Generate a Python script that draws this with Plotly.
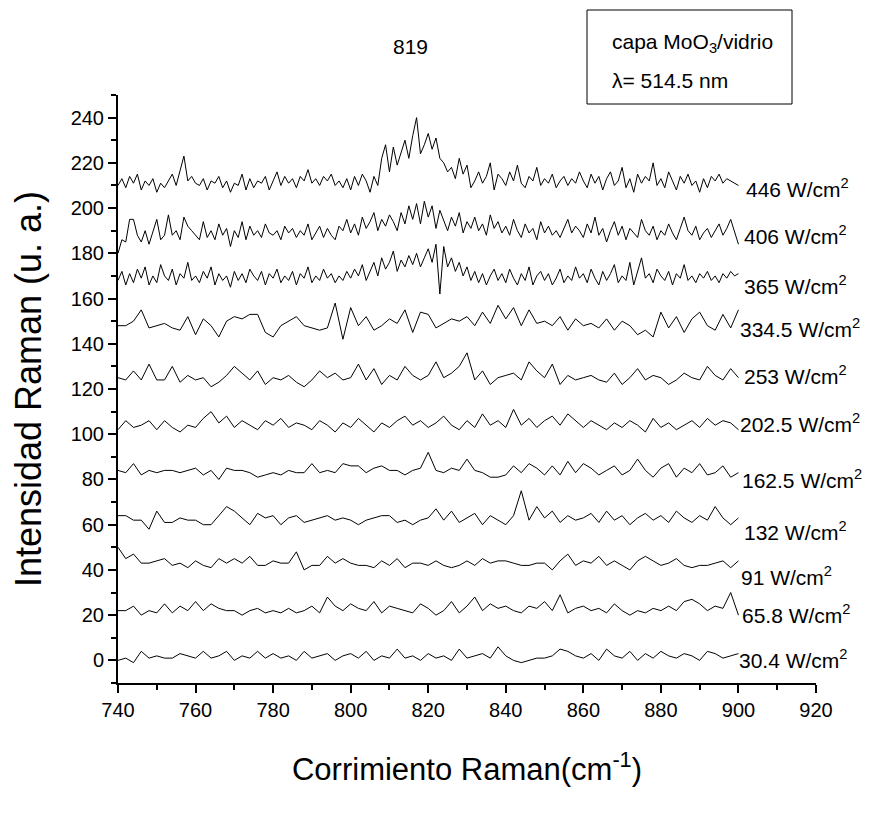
import plotly.graph_objects as go

# ---------------- data ----------------
x_fine = list(range(740, 901, 1))     # dense spectra (1 cm-1 step)
x_coarse = list(range(740, 901, 2))   # coarse spectra (2 cm-1 step)

s446 = [210, 213, 209, 214, 211, 215, 208, 212, 210, 213, 207, 211, 209, 212, 215, 210, 216, 223, 212, 214,
        211, 210, 213, 208, 212, 211, 214, 209, 212, 207, 211, 210, 215, 208, 213, 209, 212, 211, 214, 208,
        212, 216, 210, 214, 211, 213, 209, 214, 212, 217, 211, 213, 210, 214, 212, 215, 210, 212, 209, 213,
        208, 214, 210, 215, 212, 207, 214, 210, 222, 228, 216, 227, 219, 224, 230, 222, 232, 240, 224, 228,
        233, 226, 231, 222, 220, 216, 218, 213, 222, 215, 219, 209, 212, 216, 211, 214, 220, 208, 215, 213,
        210, 216, 212, 219, 211, 209, 214, 212, 218, 210, 213, 211, 215, 209, 212, 214, 210, 213, 211, 216,
        212, 209, 215, 211, 214, 208, 213, 216, 210, 212, 218, 209, 213, 207, 215, 211, 214, 212, 220, 210,
        213, 209, 216, 212, 208, 214, 211, 215, 210, 212, 207, 213, 209, 214, 212, 215, 211, 213, 212, 211, 210]

s406 = [180, 186, 185, 195, 195, 188, 185, 190, 184, 189, 195, 186, 188, 197, 188, 190, 186, 196, 192, 190,
        188, 186, 194, 187, 190, 186, 193, 188, 191, 183, 190, 187, 194, 186, 192, 188, 190, 187, 193, 189,
        188, 190, 186, 192, 189, 191, 187, 190, 188, 193, 186, 189, 192, 187, 191, 188, 186, 192, 190, 195,
        189, 193, 188, 196, 191, 194, 198, 190, 195, 192, 197, 194, 190, 198, 193, 201, 195, 202, 193, 203,
        196, 201, 191, 199, 194, 190, 196, 192, 198, 189, 194, 191, 196, 190, 193, 188, 197, 191, 194, 189,
        192, 188, 195, 190, 187, 193, 189, 191, 186, 194, 189, 192, 188, 190, 187, 191, 195, 189, 192, 190,
        187, 193, 189, 196, 188, 191, 185, 190, 194, 188, 192, 186, 191, 189, 187, 195, 190, 188, 192, 186,
        190, 188, 193, 189, 186, 191, 196, 190, 188, 192, 186, 189, 191, 187, 190, 193, 188, 191, 195, 190, 184]

s365 = [168, 172, 166, 171, 167, 173, 169, 174, 166, 170, 167, 175, 170, 168, 173, 166, 171, 169, 176, 168,
        170, 167, 172, 169, 174, 166, 171, 168, 170, 165, 172, 168, 171, 167, 173, 170, 168, 172, 166, 171,
        169, 173, 167, 170, 168, 172, 166, 171, 169, 174, 167, 170, 168, 173, 169, 171, 167, 170, 168, 172,
        169, 173, 170, 175, 168, 172, 176, 170, 178, 173, 176, 181, 172, 177, 174, 179, 175, 180, 174, 178,
        182, 176, 184, 162, 183, 174, 178, 172, 176, 170, 174, 168, 172, 167, 171, 166, 170, 173, 168, 171,
        167, 173, 169, 166, 171, 168, 174, 166, 170, 172, 168, 171, 166, 169, 173, 167, 170, 168, 174, 169,
        171, 167, 173, 169, 166, 172, 168, 171, 175, 167, 170, 168, 176, 166, 172, 178, 169, 171, 167, 173,
        170, 168, 172, 166, 171, 169, 175, 168, 170, 167, 171, 169, 172, 168, 170, 167, 171, 169, 172, 170, 171]

s334 = [148, 148, 150, 155, 147, 148, 149, 147, 146, 152, 144, 151, 148, 143, 150, 152, 151, 153, 153, 145,
        143, 148, 150, 152, 148, 147, 146, 147, 158, 142, 156, 148, 152, 146, 148, 151, 149, 155, 145, 154,
        153, 147, 149, 151, 150, 152, 148, 154, 149, 157, 151, 156, 148, 155, 149, 150, 148, 152, 146, 151,
        148, 149, 147, 151, 146, 150, 148, 144, 146, 143, 154, 147, 152, 145, 151, 154, 148, 146, 153, 147, 155]

s253 = [125, 124, 128, 124, 131, 124, 124, 130, 123, 126, 124, 125, 121, 123, 126, 130, 127, 124, 128, 122,
        125, 124, 126, 123, 121, 124, 128, 125, 127, 124, 125, 131, 124, 129, 122, 126, 124, 130, 126, 124,
        126, 132, 125, 127, 130, 136, 124, 128, 122, 125, 126, 127, 124, 132, 128, 125, 131, 122, 126, 124,
        125, 126, 124, 123, 127, 122, 125, 129, 124, 126, 125, 122, 124, 127, 125, 124, 130, 126, 124, 129, 125]

s202 = [102, 106, 103, 104, 106, 102, 106, 103, 101, 104, 103, 107, 110, 105, 108, 103, 106, 104, 102, 106,
        104, 107, 103, 105, 104, 102, 106, 104, 101, 105, 103, 107, 104, 101, 105, 103, 106, 108, 104, 106,
        103, 105, 108, 104, 102, 106, 103, 109, 104, 106, 103, 111, 104, 107, 103, 106, 108, 104, 109, 106,
        103, 106, 104, 102, 105, 103, 106, 104, 101, 107, 103, 105, 102, 104, 106, 103, 107, 104, 106, 105, 102]

s162 = [84, 83, 87, 82, 84, 83, 84, 84, 83, 84, 85, 82, 84, 80, 85, 84, 84, 83, 81, 82,
        83, 82, 84, 83, 83, 87, 83, 84, 83, 87, 86, 86, 83, 85, 86, 84, 84, 82, 84, 85,
        92, 84, 83, 85, 84, 89, 84, 83, 81, 81, 82, 86, 83, 87, 85, 82, 86, 82, 88, 83,
        87, 85, 82, 84, 86, 82, 84, 89, 84, 81, 85, 87, 81, 85, 83, 87, 82, 83, 86, 81, 83]

s132 = [64, 64, 62, 62, 58, 66, 61, 61, 63, 62, 62, 60, 60, 64, 68, 66, 63, 60, 65, 63,
        64, 60, 63, 64, 61, 62, 63, 64, 62, 63, 62, 60, 62, 63, 64, 64, 61, 62, 60, 62,
        63, 67, 62, 66, 61, 63, 65, 60, 64, 62, 60, 64, 75, 62, 68, 63, 66, 61, 64, 62,
        63, 65, 61, 66, 62, 64, 60, 63, 65, 62, 64, 61, 66, 63, 61, 64, 62, 68, 63, 60, 63]

s91 = [50, 45, 47, 43, 43, 44, 45, 42, 43, 41, 44, 42, 41, 45, 43, 45, 43, 46, 42, 42,
       44, 43, 43, 48, 40, 42, 42, 46, 43, 45, 43, 42, 42, 41, 44, 42, 45, 41, 43, 43,
       42, 44, 42, 41, 42, 44, 42, 45, 43, 44, 44, 43, 42, 42, 43, 43, 40, 44, 47, 42,
       44, 43, 46, 42, 44, 42, 40, 44, 46, 44, 42, 43, 45, 42, 41, 42, 42, 43, 44, 41, 44]

s65 = [22, 22, 24, 20, 22, 21, 25, 21, 24, 22, 26, 22, 25, 23, 22, 22, 20, 22, 23, 21,
       22, 21, 23, 21, 22, 24, 21, 28, 24, 22, 25, 23, 22, 26, 21, 24, 23, 22, 21, 25,
       23, 20, 22, 26, 21, 24, 28, 22, 25, 23, 24, 22, 21, 24, 23, 26, 22, 29, 21, 23,
       24, 22, 23, 21, 25, 22, 20, 22, 21, 23, 22, 24, 22, 26, 27, 25, 22, 24, 23, 30, 20]

s30 = [0, 1, -1, 4, 1, 2, 1, 1, 3, 2, 1, 4, 1, 2, 4, 0, 2, 1, 4, 1,
       3, 1, 2, 0, 4, 1, 2, 3, 0, 2, 3, 1, 4, 0, 2, 1, 5, 1, 2, 0,
       3, 1, 2, 0, 5, 1, 2, 3, 1, 6, 2, 0, -1, 0, 1, 1, 2, 5, 4, 2,
       1, 3, 0, 5, 2, 1, 4, 0, 3, 1, 4, 2, 1, 3, 2, 0, 4, 3, 1, 2, 3]

series_labels = ["446 W/cm<sup>2</sup>", "406 W/cm<sup>2</sup>", "365 W/cm<sup>2</sup>",
                 "334.5 W/cm<sup>2</sup>", "253 W/cm<sup>2</sup>", "202.5 W/cm<sup>2</sup>",
                 "162.5 W/cm<sup>2</sup>", "132 W/cm<sup>2</sup>", "91 W/cm<sup>2</sup>",
                 "65.8 W/cm<sup>2</sup>", "30.4 W/cm<sup>2</sup>"]
series_x = [x_fine, x_fine, x_fine] + [x_coarse] * 8
series_y = [s446, s406, s365, s334, s253, s202, s162, s132, s91, s65, s30]

label_y = [209, 188, 166, 147, 126, 105, 80, 57, 37.5, 20.7, 0.4]
label_x = [901.4, 900.8, 900.8, 899.8, 900.9, 899.8, 900.4, 900.9, 900.2, 900.4, 899.7]

FONT = "Liberation Sans, Arial, sans-serif"

# plot area in pixels
W, H = 880, 825
L, R, T, B = 110, 808, 87, 675


def px(xp):
    return (xp - L) / (R - L)


def py(yp):
    return (B - yp) / (B - T)


fig = go.Figure()
for name, xs, ys in zip(series_labels, series_x, series_y):
    fig.add_trace(go.Scatter(x=xs, y=ys, mode="lines", name=name,
                             line=dict(color="black", width=1), showlegend=False,
                             cliponaxis=False))

for name, lx, ly in zip(series_labels, label_x, label_y):
    fig.add_annotation(x=lx, y=ly, xref="x", yref="y", text=name, showarrow=False,
                       xanchor="left", yanchor="middle",
                       font=dict(family=FONT, size=21, color="black"))

# peak label
fig.add_annotation(x=815.3, y=py(38), xref="x", yref="paper", text="819", showarrow=False,
                   xanchor="center", yanchor="middle", font=dict(family=FONT, size=21, color="black"))

# info box
fig.add_shape(type="rect", xref="paper", yref="paper", x0=px(579), x1=px(784), y0=py(96), y1=py(2),
              line=dict(color="black", width=1), fillcolor="white", layer="above")
fig.add_annotation(x=px(602), y=py(35), xref="paper", yref="paper",
                   text="capa MoO<sub>3</sub>/vidrio", showarrow=False, xanchor="left", yanchor="middle",
                   font=dict(family=FONT, size=21, color="black"))
fig.add_annotation(x=px(602), y=py(72), xref="paper", yref="paper",
                   text="λ= 514.5 nm", showarrow=False, xanchor="left", yanchor="middle",
                   font=dict(family=FONT, size=21, color="black"))

fig.update_layout(
    width=W, height=H,
    margin=dict(l=L, r=W - R, t=T, b=H - B),
    paper_bgcolor="white", plot_bgcolor="white",
    font=dict(family=FONT, color="black"),
    xaxis=dict(range=[740, 920], tickmode="linear", tick0=740, dtick=20,
               ticks="outside", ticklen=8, tickwidth=2, tickcolor="black",
               showline=True, linewidth=2, linecolor="black", showgrid=False, zeroline=False,
               tickfont=dict(family=FONT, size=20, color="black"),
               minor=dict(dtick=10, ticks="outside", ticklen=5, tickwidth=2, tickcolor="black", showgrid=False),
               title=dict(text="Corrimiento Raman(cm<sup>-1</sup>)", standoff=38,
                          font=dict(family=FONT, size=31, color="black"))),
    yaxis=dict(range=[-10, 250], tickmode="linear", tick0=0, dtick=20,
               ticks="outside", ticklen=8, tickwidth=2, tickcolor="black",
               showline=True, linewidth=2, linecolor="black", showgrid=False, zeroline=False,
               tickfont=dict(family=FONT, size=20, color="black"),
               minor=dict(dtick=10, ticks="outside", ticklen=5, tickwidth=2, tickcolor="black", showgrid=False),
               title=dict(text="Intensidad Raman (u. a.)", standoff=22,
                          font=dict(family=FONT, size=36, color="black"))),
)

fig.write_html("out.html")
